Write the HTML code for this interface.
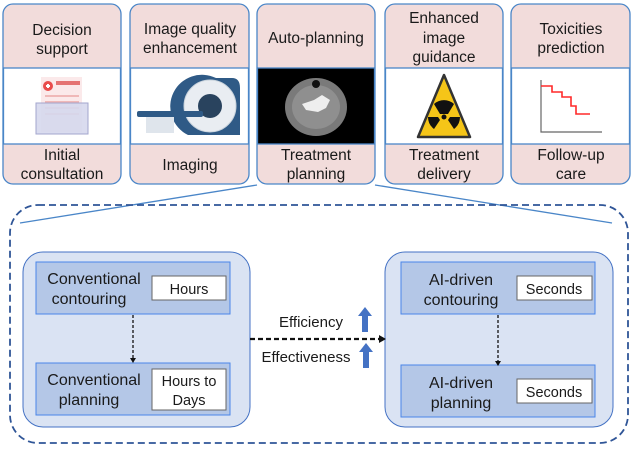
<!DOCTYPE html>
<html><head><meta charset="utf-8"><style>
body{margin:0;background:#fff;width:633px;height:448px;overflow:hidden}
svg text{font-family:"Liberation Sans",Arial,sans-serif;fill:#1a1a1a}
</style></head><body>
<svg width="633" height="448" viewBox="0 0 633 448" xmlns="http://www.w3.org/2000/svg">
<g stroke="#4a86c8" stroke-width="1.3">
<rect x="3" y="4" width="118" height="180" rx="10" fill="#f2dcdb"/>
<rect x="3.5" y="68" width="117" height="76" fill="#fff"/>
<rect x="130" y="4" width="119" height="180" rx="10" fill="#f2dcdb"/>
<rect x="130.5" y="68" width="118" height="76" fill="#fff"/>
<rect x="257" y="4" width="118" height="180" rx="10" fill="#f2dcdb"/>
<rect x="257.5" y="68" width="117" height="76" fill="#000"/>
<rect x="385" y="4" width="118" height="180" rx="10" fill="#f2dcdb"/>
<rect x="385.5" y="68" width="117" height="76" fill="#fff"/>
<rect x="511" y="4" width="119" height="180" rx="10" fill="#f2dcdb"/>
<rect x="511.5" y="68" width="118" height="76" fill="#fff"/>
<line x1="257" y1="185" x2="20" y2="223" fill="none"/>
<line x1="375" y1="185" x2="612" y2="223" fill="none"/>
</g>
<!-- icons -->
<rect x="41" y="77" width="41" height="55" fill="#fbe9ea"/>
<circle cx="48" cy="86" r="5" fill="#e94c4c"/>
<rect x="46" y="85" width="4" height="2" fill="#fff"/><rect x="47" y="84" width="2" height="4" fill="#fff"/>
<rect x="56" y="81" width="24" height="4" fill="#e57373"/>
<g fill="#f0b8b8"><rect x="45" y="95" width="34" height="2"/><rect x="45" y="101" width="34" height="2"/><rect x="45" y="107" width="34" height="2"/><rect x="45" y="113" width="34" height="2"/></g>
<rect x="36" y="103" width="52" height="31" fill="#d6d9ee" stroke="#9a9dc8" stroke-width="1" opacity="0.9"/>
<path d="M188 135 A30 30 0 0 1 216 78 L232 78 Q240 78 240 88 L240 135 Z" fill="#2f5a86"/>
<circle cx="210" cy="106" r="26" fill="#e9edf2" stroke="#c9d3dc"/>
<circle cx="210" cy="106" r="12" fill="#29435e"/>
<rect x="137" y="111" width="66" height="6" rx="2" fill="#2f5a86"/>
<rect x="146" y="117" width="28" height="16" fill="#dfe5ec"/>
<ellipse cx="316" cy="107" rx="31" ry="29" fill="#7a7a7a"/>
<ellipse cx="316" cy="107" rx="24" ry="22" fill="#999" opacity="0.7"/>
<path d="M302 104 L314 100 L322 95 L330 100 L326 108 L318 112 L306 110 Z" fill="#eee"/>
<circle cx="316" cy="84" r="4" fill="#111"/>
<path d="M444 75 L470 137 L418 137 Z" fill="#f5c518" stroke="#333" stroke-width="2.5" stroke-linejoin="round"/>
<circle cx="444" cy="117" r="2.5" fill="#111"/>
<g fill="#111">
<path d="M440 114 L434 104 A15 15 0 0 1 454 104 L448 114 Z"/>
<path d="M440 120 L434 129 A15 15 0 0 1 428 117 L438 117 Z"/>
<path d="M448 120 L454 129 A15 15 0 0 0 460 117 L450 117 Z"/>
</g>
<g fill="none">
<path d="M541 80 L541 132 L602 132" stroke="#666" stroke-width="1.2"/>
<path d="M541 86 L552 86 L552 92 L562 92 L562 97 L571 97 L571 106 L576 106 L576 114 L590 114" stroke="#ff2a2a" stroke-width="1.6"/>
</g>
<g font-size="15.5" text-anchor="middle">
<text x="62" y="35">Decision</text><text x="62" y="54">support</text>
<text x="62" y="160">Initial</text><text x="62" y="179">consultation</text>
<text x="190" y="34">Image quality</text><text x="190" y="53">enhancement</text>
<text x="190" y="170">Imaging</text>
<text x="316" y="43">Auto-planning</text>
<text x="316" y="160">Treatment</text><text x="316" y="179">planning</text>
<text x="444" y="23">Enhanced</text><text x="444" y="43">image</text><text x="444" y="62">guidance</text>
<text x="444" y="160">Treatment</text><text x="444" y="179">delivery</text>
<text x="571" y="34">Toxicities</text><text x="571" y="53">prediction</text>
<text x="571" y="160">Follow-up</text><text x="571" y="179">care</text>
</g>
<rect x="10" y="205" width="618" height="238" rx="28" fill="none" stroke="#2f5597" stroke-width="1.8" stroke-dasharray="7 4"/>
<rect x="23" y="252" width="227" height="175" rx="20" fill="#dae3f3" stroke="#4472c4" stroke-width="1"/>
<rect x="36" y="262" width="194" height="52" fill="#b4c7e7" stroke="#4a86e8" stroke-width="1"/>
<rect x="36" y="363" width="194" height="52" fill="#b4c7e7" stroke="#4a86e8" stroke-width="1"/>
<rect x="152" y="276" width="74" height="24" fill="#fff" stroke="#666" stroke-width="1"/>
<rect x="152" y="369" width="74" height="41" fill="#fff" stroke="#666" stroke-width="1"/>
<rect x="385" y="252" width="228" height="175" rx="20" fill="#dae3f3" stroke="#4472c4" stroke-width="1"/>
<rect x="401" y="262" width="194" height="52" fill="#b4c7e7" stroke="#4a86e8" stroke-width="1"/>
<rect x="401" y="365" width="194" height="52" fill="#b4c7e7" stroke="#4a86e8" stroke-width="1"/>
<rect x="517" y="276" width="75" height="24" fill="#fff" stroke="#666" stroke-width="1"/>
<rect x="517" y="379" width="75" height="24" fill="#fff" stroke="#666" stroke-width="1"/>
<g stroke="#111" fill="none">
<line x1="133" y1="315" x2="133" y2="358" stroke-width="1.3" stroke-dasharray="3 2"/>
<line x1="498" y1="315" x2="498" y2="361" stroke-width="1.3" stroke-dasharray="3 2"/>
<line x1="250" y1="339" x2="380" y2="339" stroke-width="2.2" stroke-dasharray="5 3"/>
</g>
<path d="M130 358 L136 358 L133 363 Z" fill="#111"/>
<path d="M495 361 L501 361 L498 366 Z" fill="#111"/>
<path d="M379 335 L386 339 L379 343 Z" fill="#111"/>
<path d="M365 307 L372 316 L368 316 L368 332 L362 332 L362 316 L358 316 Z" fill="#4472c4"/>
<path d="M366 343 L373 352 L369 352 L369 368 L363 368 L363 352 L359 352 Z" fill="#4472c4"/>
<g font-size="16" text-anchor="middle">
<text x="94" y="284">Conventional</text><text x="89" y="304">contouring</text>
<text x="94" y="385">Conventional</text><text x="89" y="405">planning</text>
<text x="189" y="294" font-size="14.5">Hours</text>
<text x="189" y="386" font-size="14.5">Hours to</text><text x="189" y="405" font-size="14.5">Days</text>
<text x="461" y="285">AI-driven</text><text x="461" y="305">contouring</text>
<text x="461" y="388">AI-driven</text><text x="461" y="408">planning</text>
<text x="554" y="294" font-size="14.5">Seconds</text>
<text x="554" y="397" font-size="14.5">Seconds</text>
<text x="311" y="327" font-size="15">Efficiency</text>
<text x="306" y="362" font-size="15">Effectiveness</text>
</g>
</svg>
</body></html>
